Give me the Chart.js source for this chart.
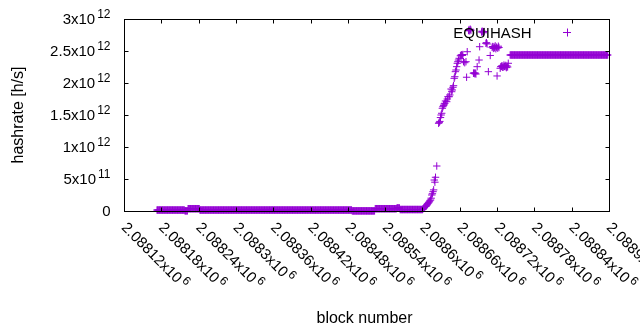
<!DOCTYPE html>
<html><head><meta charset="utf-8">
<script src="https://cdn.jsdelivr.net/npm/chart.js@4"></script>
<style>html,body{margin:0;padding:0;background:#fff}#wrap{width:640px;height:330px}canvas{display:block}</style>
</head><body>
<div id="wrap"><canvas id="c" width="640" height="330"></canvas></div>
<script>
// ---- data ----
const seriesName = "EQUIHASH";
const xTitle = "block number";
const yTitle = "hashrate [h/s]";
const firstBlock = 2088173;          // block number of the first value
const valueUnit = 1e10;              // values below are in units of 10^10 h/s
// one value per consecutive block (null = no point)
const hashrate = [
  // 2088173-2088217
  1.5,1.5,1.5,1.5,1.5,1.5,1.5,1.5,1.5,1.5, 1.5,1.5,1.5,1.5,1.5,1.5,1.5,1.5,1.5,1.5,
  1.5,1.5,1.5,1.5,1.5,1.5,1.5,1.5,1.5,1.5, 1.5,1.5,1.5,1.5,1.5,1.5,1.5,1.5,1.5,1.5,
  1.5,1.5,1.5,1.5,1.5,
  // 2088218-2088222
  0.3,0.3,0.3,0.3,0.3,
  // 2088223-2088241
  3.6,3.6,3.6,3.6,3.6,3.6,3.6,3.6,3.6,3.6, 3.6,3.6,3.6,3.6,3.6,3.6,3.6,3.6,3.6,
  // 2088242-2088486
  1.5,1.5,1.5,1.5,1.5,1.5,1.5,1.5,1.5,1.5, 1.5,1.5,1.5,1.5,1.5,1.5,1.5,1.5,1.5,1.5,
  1.5,1.5,1.5,1.5,1.5,1.5,1.5,1.5,1.5,1.5, 1.5,1.5,1.5,1.5,1.5,1.5,1.5,1.5,1.5,1.5,
  1.5,1.5,1.5,1.5,1.5,1.5,1.5,1.5,1.5,1.5, 1.5,1.5,1.5,1.5,1.5,1.5,1.5,1.5,1.5,1.5,
  1.5,1.5,1.5,1.5,1.5,1.5,1.5,1.5,1.5,1.5, 1.5,1.5,1.5,1.5,1.5,1.5,1.5,1.5,1.5,1.5,
  1.5,1.5,1.5,1.5,1.5,1.5,1.5,1.5,1.5,1.5, 1.5,1.5,1.5,1.5,1.5,1.5,1.5,1.5,1.5,1.5,
  1.5,1.5,1.5,1.5,1.5,1.5,1.5,1.5,1.5,1.5, 1.5,1.5,1.5,1.5,1.5,1.5,1.5,1.5,1.5,1.5,
  1.5,1.5,1.5,1.5,1.5,1.5,1.5,1.5,1.5,1.5, 1.5,1.5,1.5,1.5,1.5,1.5,1.5,1.5,1.5,1.5,
  1.5,1.5,1.5,1.5,1.5,1.5,1.5,1.5,1.5,1.5, 1.5,1.5,1.5,1.5,1.5,1.5,1.5,1.5,1.5,1.5,
  1.5,1.5,1.5,1.5,1.5,1.5,1.5,1.5,1.5,1.5, 1.5,1.5,1.5,1.5,1.5,1.5,1.5,1.5,1.5,1.5,
  1.5,1.5,1.5,1.5,1.5,1.5,1.5,1.5,1.5,1.5, 1.5,1.5,1.5,1.5,1.5,1.5,1.5,1.5,1.5,1.5,
  1.5,1.5,1.5,1.5,1.5,1.5,1.5,1.5,1.5,1.5, 1.5,1.5,1.5,1.5,1.5,1.5,1.5,1.5,1.5,1.5,
  1.5,1.5,1.5,1.5,1.5,1.5,1.5,1.5,1.5,1.5, 1.5,1.5,1.5,1.5,1.5,1.5,1.5,1.5,1.5,1.5,
  1.5,1.5,1.5,1.5,1.5,
  // 2088487-2088523
  0.2,0.2,0.2,0.2,0.2,0.2,0.2,0.2,0.2,0.2, 0.2,0.2,0.2,0.2,0.2,0.2,0.2,0.2,0.2,0.2,
  0.2,0.2,0.2,0.2,0.2,0.2,0.2,0.2,0.2,0.2, 0.2,0.2,0.2,0.2,0.2,0.2,0.2,
  // 2088524-2088558
  3.6,3.6,3.6,3.6,3.6,3.6,3.6,3.6,3.6,3.6, 3.6,3.6,3.6,3.6,3.6,3.6,3.6,3.6,3.6,3.6,
  3.6,3.6,3.6,3.6,3.6,3.6,3.6,3.6,3.6,3.6, 3.6,3.6,3.6,3.6,3.6,
  // 2088559-2088563
  4.7,4.7,4.7,4.7,4.7,
  // 2088564-2088600
  2.3,2.3,2.3,2.3,2.3,2.3,2.3,2.3,2.3,2.3, 2.3,2.3,2.3,2.3,2.3,2.3,2.3,2.3,2.3,2.3,
  2.3,2.3,2.3,2.3,2.3,2.3,2.3,2.3,2.3,2.3, 2.3,2.3,2.3,2.3,2.3,2.3,2.3,
  // 2088601-2088740
  3.5, 4.5, 5.8, 6.5, 7.2, 7.8, 9, 10.5, 12, 13,
  14.5, 16, 17.2, 20, 25, 27, 30.2, 33, 48.4, 45,
  52.7, null, 70.3, null, null, 137, 138.5, 140, 146, 150,
  152.7, 160.5, 163, 165, 167.2, 168.3, 171.9, null, 170.8, 175,
  178.6, null, 178.6, 181.3, null, 190.6, 186.4, 189.1, 193.3, 195.8,
  207.3, 209.8, 217.7, 220.3, 225.5, 230.8, 233.3, 235.9, 238.6, null,
  242.5, 243.5, 244, 243, 244.5, 233.3, null, 231.7, null, 233.3,
  209, 248.9, null, 282, 283.5, 281.5, 284, 282.5, null, null,
  null, 215.2, 216, 214.5, 215.5, 214, null, 225.5, null, null,
  235.9, 256.7, null, null, 279.7, 281, 280, 278.5, 280.5, null,
  null, 262, 263, 261, null, 217.7, null, null, 243, null,
  null, 255.8, 257, 254, 256.5, 255, 258, 253.5, 256, 211,
  254.5, 257.5, 255.5, null, 223, 225.5, 226, 227, 224.5, 225,
  228, 226, 225.5, 227.5, 224, 226.5, 225, 230.8, null, null,
  // 2088741-2088898
  243.75,243.75,243.75,243.75,243.75,243.75,243.75,243.75,243.75,243.75,
  243.75,243.75,243.75,243.75,243.75,243.75,243.75,243.75,243.75,243.75,
  243.75,243.75,243.75,243.75,243.75,243.75,243.75,243.75,243.75,243.75,
  243.75,243.75,243.75,243.75,243.75,243.75,243.75,243.75,243.75,243.75,
  243.75,243.75,243.75,243.75,243.75,243.75,243.75,243.75,243.75,243.75,
  243.75,243.75,243.75,243.75,243.75,243.75,243.75,243.75,243.75,243.75,
  243.75,243.75,243.75,243.75,243.75,243.75,243.75,243.75,243.75,243.75,
  243.75,243.75,243.75,243.75,243.75,243.75,243.75,243.75,243.75,243.75,
  243.75,243.75,243.75,243.75,243.75,243.75,243.75,243.75,243.75,243.75,
  243.75,243.75,243.75,243.75,243.75,243.75,243.75,243.75,243.75,243.75,
  243.75,243.75,243.75,243.75,243.75,243.75,243.75,243.75,243.75,243.75,
  243.75,243.75,243.75,243.75,243.75,243.75,243.75,243.75,243.75,243.75,
  243.75,243.75,243.75,243.75,243.75,243.75,243.75,243.75,243.75,243.75,
  243.75,243.75,243.75,243.75,243.75,243.75,243.75,243.75,243.75,243.75,
  243.75,243.75,243.75,243.75,243.75,243.75,243.75,243.75,243.75,243.75,
  243.75,243.75,243.75,243.75,243.75,243.75,243.75,243.75
];
const xMin = 2088120, xMax = 2088900;
const yMin = 0, yMax = 3e12;
const xTicks = [2088120,2088180,2088240,2088300,2088360,2088420,2088480,2088540,2088600,2088660,2088720,2088780,2088840,2088900];
const xTickLabels = [["2.08812x10","6"],["2.08818x10","6"],["2.08824x10","6"],["2.0883x10","6"],["2.08836x10","6"],["2.08842x10","6"],["2.08848x10","6"],["2.08854x10","6"],["2.0886x10","6"],["2.08866x10","6"],["2.08872x10","6"],["2.08878x10","6"],["2.08884x10","6"],["2.0889x10","6"]];
const yTicks = [0,5e11,1e12,1.5e12,2e12,2.5e12,3e12];
const yTickLabels = [["0",""],["5x10","11"],["1x10","12"],["1.5x10","12"],["2x10","12"],["2.5x10","12"],["3x10","12"]];

// ---- chart ----
const COLOR = '#9400d3';
const FONT = '"Liberation Sans", Arial, sans-serif';
const points = hashrate.map((v, i) => ({ x: firstBlock + i, y: v === null ? null : v * valueUnit }));

const overlay = {
  id: 'overlay',
  afterDraw(chart) {
    const ctx = chart.ctx, a = chart.chartArea, xs = chart.scales.x, ys = chart.scales.y;
    ctx.save();
    ctx.strokeStyle = '#000'; ctx.lineWidth = 1;
    const L = Math.round(a.left) + 0.5, R = Math.round(a.right) + 0.5, T = Math.round(a.top) + 0.5, B = Math.round(a.bottom) + 0.5;
    ctx.beginPath();
    yTicks.forEach(v => { const y = Math.round(ys.getPixelForValue(v)) + 0.5; ctx.moveTo(L, y); ctx.lineTo(L + 4, y); ctx.moveTo(R, y); ctx.lineTo(R - 4, y); });
    xTicks.forEach(v => { const x = Math.round(xs.getPixelForValue(v)) + 0.5; ctx.moveTo(x, B); ctx.lineTo(x, B - 4); ctx.moveTo(x, T); ctx.lineTo(x, T + 4); });
    ctx.stroke();
    ctx.strokeRect(L, T, R - L, B - T);

    ctx.fillStyle = '#000';
    const big = '15px ' + FONT, small = '12px ' + FONT;
    // y tick labels
    yTicks.forEach((v, i) => {
      const y = ys.getPixelForValue(v);
      const [m, s] = yTickLabels[i];
      const right = a.left - 13.5;
      ctx.font = small; const sw = s ? ctx.measureText(s).width + 2 : 0;
      ctx.textAlign = 'right'; ctx.textBaseline = 'alphabetic';
      if (s) ctx.fillText(s, right, y - 1);
      ctx.font = big; ctx.fillText(m, right - sw, y + 4.7);
    });
    // x tick labels (rotated)
    xTicks.forEach((v, i) => {
      const x = xs.getPixelForValue(v);
      const [m, s] = xTickLabels[i];
      ctx.save();
      ctx.translate(x, a.bottom + 14);
      ctx.rotate(Math.PI / 4);
      ctx.textAlign = 'left'; ctx.textBaseline = 'alphabetic';
      ctx.font = big; ctx.fillText(m, 0, 4.7);
      const mw = ctx.measureText(m).width;
      ctx.font = small; ctx.fillText(s, mw + 2, -1);
      ctx.restore();
    });
    // axis titles
    ctx.font = '16px ' + FONT;
    ctx.textAlign = 'center'; ctx.textBaseline = 'alphabetic';
    ctx.fillText(xTitle, (a.left + a.right) / 2 - 2, 322.7);
    ctx.save();
    ctx.translate(22.5, (a.top + a.bottom) / 2);
    ctx.rotate(-Math.PI / 2);
    ctx.fillText(yTitle, 0, 0);
    ctx.restore();
    // key
    ctx.font = big; ctx.textAlign = 'right';
    ctx.fillText(seriesName, 531.7, 37.5);
    ctx.strokeStyle = COLOR; ctx.beginPath();
    ctx.moveTo(563, 32.5); ctx.lineTo(571, 32.5); ctx.moveTo(567.5, 28.5); ctx.lineTo(567.5, 36.5); ctx.stroke();
    ctx.restore();
  }
};

new Chart(document.getElementById('c'), {
  type: 'scatter',
  data: { datasets: [{ label: seriesName, data: points, pointStyle: 'cross', pointRadius: 3.7, pointHoverRadius: 3.7,
    borderColor: COLOR, backgroundColor: COLOR, borderWidth: 1, showLine: false, clip: false }] },
  options: {
    responsive: false, animation: false, devicePixelRatio: 1,
    layout: { padding: { left: 124, right: 31, top: 19, bottom: 119 } },
    scales: {
      x: { type: 'linear', min: xMin, max: xMax, display: false },
      y: { type: 'linear', min: yMin, max: yMax, display: false }
    },
    plugins: { legend: { display: false }, tooltip: { enabled: false } }
  },
  plugins: [overlay]
});
</script>
</body></html>
